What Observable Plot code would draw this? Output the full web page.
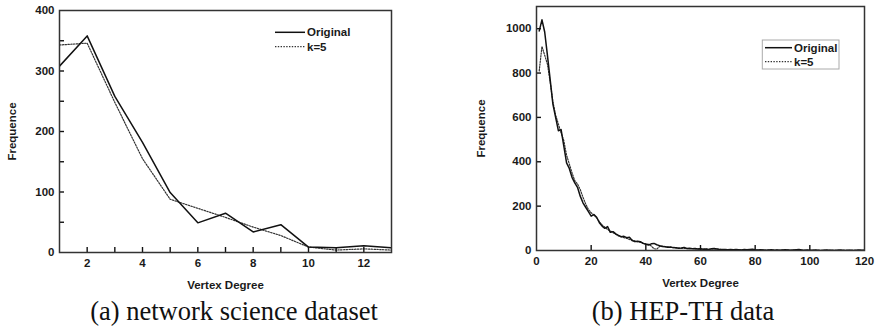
<!DOCTYPE html>
<html><head><meta charset="utf-8">
<script src="https://cdn.jsdelivr.net/npm/d3@7"></script>
<script src="https://cdn.jsdelivr.net/npm/@observablehq/plot@0.6"></script>
<style>
html,body{margin:0;padding:0;background:#fff;}
#root{position:relative;width:883px;height:331px;overflow:hidden;background:#fff;}
.panel{position:absolute;top:0;}
.cap{position:absolute;font-family:"Liberation Serif","Times New Roman",serif;font-size:26.5px;line-height:26.5px;white-space:nowrap;transform:translateX(-50%);color:#111;}
.leg{position:absolute;left:0;top:0;overflow:visible;}
</style></head><body><div id="root"></div>
<script>
// ---- Panel (a): network science dataset ----
const degreesA = [1,2,3,4,5,6,7,8,9,10,11,12,13];
const origA = [308,358,258,182,99,49,65,34,46,9,8,11,8];
const k5A   = [343,346,248,155,88,73,58,42,28,9,4,6,4];
const xLabelsA = [2,4,6,8,10,12];
const xTicksA  = [2,3,4,5,6,7,8,9,10,11,12];
const yLabelsA = [0,100,200,300,400];
const yTicksA  = [50,100,150,200,250,300,350];

// ---- Panel (b): HEP-TH data ----
const origB = [
 990,1040,985,880,770,660,600,540,545,470,
 395,370,330,305,285,245,215,195,175,155,
 162,150,125,110,100,108,82,85,75,68,
 62,64,58,60,45,40,42,40,32,28,
 25,30,32,26,22,18,17,15,16,13,
 12,10,11,14,9,10,8,9,7,8,
 6,7,5,8,9,7,5,4,5,3,
 4,3,4,3,2,4,3,5,6,3,
 2,3,2,1,2,3,1,2,1,2,
 3,2,1,2,3,4,2,1,2,1,
 1,2,1,0,1,2,1,1,0,1,
 2,1,0,1,1,0,1,2,1,1];
const k5B = [
 810,920,880,840,760,670,610,570,530,495,
 430,390,350,315,300,275,240,210,185,170,
 160,148,130,115,105,95,88,80,73,66,
 62,58,55,50,47,43,40,37,33,30,
 28,20,8,6,18,20,18,16,14,13,
 12,11,10,10,9,8,9,7,7,6,
 6,6,5,6,7,6,5,4,4,3,
 3,3,3,2,3,3,4,4,3,2,
 2,2,2,1,2,2,1,2,1,2,
 2,2,1,2,2,3,2,1,1,1,
 1,1,1,0,1,1,1,1,0,1,
 1,1,0,1,1,0,1,1,1,1];
const degreesB = origB.map((_, i) => i + 1);
const xLabelsB = [0,20,40,60,80,100,120];
const xTicksB  = [20,40,60,80,100];
const yLabelsB = [0,200,400,600,800,1000];
const yTicksB  = [200,400,600,800,1000];

const seriesNames = ["Original", "k=5"];
const captions = ["(a) network science dataset", "(b) HEP-TH data"];
const xTitle = "Vertex Degree", yTitle = "Frequence";

const style = {fontFamily: "'Liberation Sans', Arial, sans-serif", fontSize: "11.5px", fontWeight: "bold", color: "#1a1a1a", background: "transparent", overflow: "visible"};

function rows(xs, ys) { return xs.map((x, i) => ({x, y: ys[i]})); }
const fmt = d => String(d);
const TS = 5, H = 300;

function panel(cfg) {
  const plotW = cfg.width - cfg.ml - cfg.mr, plotH = H - cfg.mt - cfg.mb;
  return Plot.plot({
    width: cfg.width, height: H,
    marginLeft: cfg.ml, marginRight: cfg.mr, marginTop: cfg.mt, marginBottom: cfg.mb,
    style,
    x: {domain: cfg.xDomain},
    y: {domain: cfg.yDomain},
    marks: [
      Plot.line(rows(cfg.xs, cfg.k5), {x: "x", y: "y", stroke: "#333", strokeWidth: 1.2, strokeDasharray: "1.4,1.4", clip: true}),
      Plot.line(rows(cfg.xs, cfg.orig), {x: "x", y: "y", stroke: "#111", strokeWidth: 1.5, clip: true}),
      // inward tick marks: rules inset to a short length from the bottom / left frame edges
      Plot.ruleX(cfg.xTicks, {x: d => d, insetTop: plotH - TS, stroke: "#111", strokeWidth: 1.4}),
      Plot.ruleY(cfg.yTicks, {y: d => d, insetRight: plotW - TS, stroke: "#111", strokeWidth: 1.4}),
      Plot.frame({stroke: "#333", strokeWidth: 1.5}),
      Plot.axisX(cfg.xLabels, {tickSize: 0, tickPadding: 6, tickFormat: fmt, label: xTitle, labelAnchor: "center", labelArrow: "none", labelOffset: cfg.xLabelOffset}),
      Plot.axisY(cfg.yLabels, {tickSize: 0, tickPadding: 5, tickFormat: fmt, label: yTitle, labelAnchor: "center", labelArrow: "none", labelOffset: cfg.yLabelOffset})
    ]
  });
}

const root = document.getElementById("root");

const pA = panel({width: 440, ml: 59, mr: 49, mt: 10, mb: 48, xDomain: [1, 13], yDomain: [0, 400],
  xs: degreesA, orig: origA, k5: k5A, xTicks: xTicksA, xLabels: xLabelsA, yTicks: yTicksA, yLabels: yLabelsA,
  xLabelOffset: 36, yLabelOffset: 52});
pA.classList.add("panel"); pA.style.left = "0px";
root.appendChild(pA);

const pB = panel({width: 443, ml: 96, mr: 19, mt: 6, mb: 50, xDomain: [0, 120], yDomain: [0, 1100],
  xs: degreesB, orig: origB, k5: k5B, xTicks: xTicksB, xLabels: xLabelsB, yTicks: yTicksB, yLabels: yLabelsB,
  xLabelOffset: 36, yLabelOffset: 60});
pB.classList.add("panel"); pB.style.left = "440px";
root.appendChild(pB);

// legends
const leg = d3.select(root).append("svg").attr("class", "leg").attr("width", 883).attr("height", 331)
  .style("font-family", "'Liberation Sans', Arial, sans-serif").style("font-size", "11.5px").style("font-weight", "bold");
function legend(x0, x1, y0, dyRow) {
  seriesNames.forEach((name, i) => {
    const y = y0 + i * dyRow;
    leg.append("line").attr("x1", x0).attr("x2", x1).attr("y1", y).attr("y2", y)
      .attr("stroke", i === 0 ? "#111" : "#333").attr("stroke-width", i === 0 ? 1.5 : 1.2)
      .attr("stroke-dasharray", i === 0 ? null : "1.4,1.4");
    leg.append("text").attr("x", x1 + 2).attr("y", y).attr("dy", "0.36em").attr("fill", "#1a1a1a").text(name);
  });
}
legend(275, 305, 32.3, 14.4);
leg.append("rect").attr("x", 762.3).attr("y", 40).attr("width", 76.7).attr("height", 29)
  .attr("fill", "none").attr("stroke", "#aaa").attr("stroke-width", 1);
legend(765, 792, 47.7, 14);

// captions
[[234, captions[0]], [683, captions[1]]].forEach(([cx, t]) => {
  const d = document.createElement("div");
  d.className = "cap"; d.style.left = cx + "px"; d.style.top = "298px"; d.textContent = t;
  root.appendChild(d);
});
</script></body></html>
